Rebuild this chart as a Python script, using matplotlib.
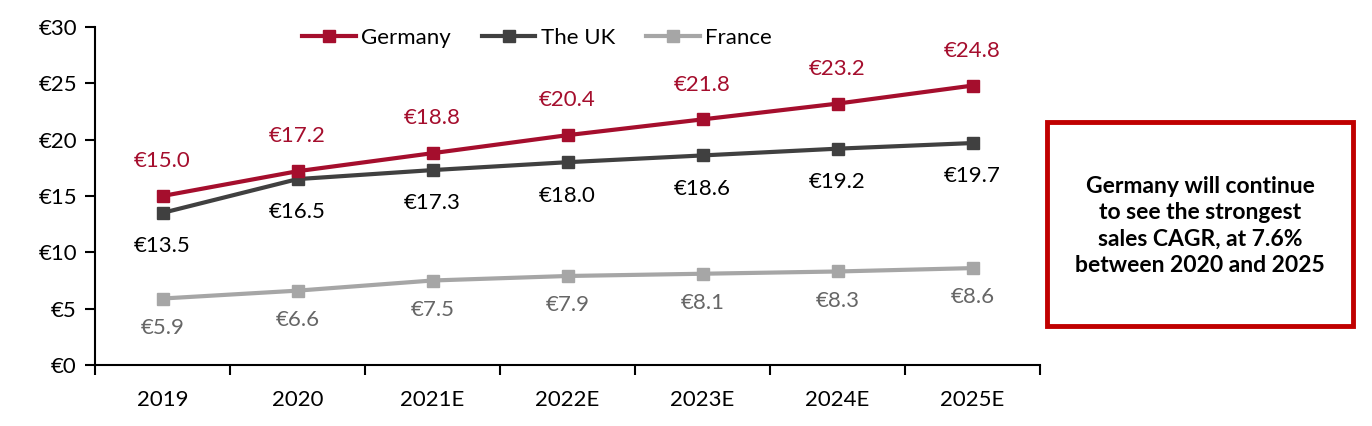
import matplotlib
matplotlib.use("Agg")
import matplotlib.pyplot as plt
from matplotlib.patches import Rectangle
import numpy as np

years = ["2019", "2020", "2021E", "2022E", "2023E", "2024E", "2025E"]
germany = [15.0, 17.2, 18.8, 20.4, 21.8, 23.2, 24.8]
uk = [13.5, 16.5, 17.3, 18.0, 18.6, 19.2, 19.7]
france = [5.9, 6.6, 7.5, 7.9, 8.1, 8.3, 8.6]
yticks = [0, 5, 10, 15, 20, 25, 30]
note = "Germany will continue\nto see the strongest\nsales CAGR, at 7.6%\nbetween 2020 and 2025"

plt.rcParams['font.family'] = ['Lato', 'DejaVu Sans']

c_de = "#A50E2D"
c_uk = "#404040"
c_fr = "#A6A6A6"

fig = plt.figure(figsize=(13.72, 4.26), dpi=100)
ax = fig.add_axes([95/1372, 61/426, 945/1372, 338/426])

x = np.arange(len(years))
ax.plot(x, germany, color=c_de, lw=3, marker='s', ms=9, label="Germany", zorder=4)
ax.plot(x, uk, color=c_uk, lw=3, marker='s', ms=9, label="The UK", zorder=3)
ax.plot(x, france, color=c_fr, lw=3, marker='s', ms=9, label="France", zorder=2)

fs_lab = 16
for xi, v in zip(x, germany):
    ax.annotate(f"€{v:.1f}", (xi, v), xytext=(0, 25), textcoords='offset points',
                ha='center', va='center', fontsize=fs_lab, color=c_de)
for xi, v in zip(x, uk):
    ax.annotate(f"€{v:.1f}", (xi, v), xytext=(0, -24), textcoords='offset points',
                ha='center', va='center', fontsize=fs_lab, color='black')
for xi, v in zip(x, france):
    ax.annotate(f"€{v:.1f}", (xi, v), xytext=(0, -21), textcoords='offset points',
                ha='center', va='center', fontsize=fs_lab, color='#666666')

ax.set_xlim(-0.5, len(years) - 0.5)
ax.set_ylim(0, 30)
ax.set_yticks(yticks)
ax.set_yticklabels([f"€{t}" for t in yticks], fontsize=16)
ax.set_xticks(x)
ax.set_xticklabels(years, fontsize=16)
ax.set_xticks(np.arange(-0.5, len(years)), minor=True)
ax.tick_params(axis='x', which='major', length=0, pad=18)
ax.tick_params(axis='x', which='minor', length=7, width=1.5, direction='out')
ax.tick_params(axis='y', length=7, width=1.5, direction='out', pad=6)
for s in ['top', 'right']:
    ax.spines[s].set_visible(False)
for s in ['left', 'bottom']:
    ax.spines[s].set_linewidth(1.5)

leg = fig.legend(loc='center', bbox_to_anchor=(537/1372, 1 - 38/426), ncol=3,
                 frameon=False, fontsize=16, handlelength=2.4, columnspacing=1.4,
                 handletextpad=0.25)

rect = Rectangle((1047/1372, 1 - 326/426), (1353 - 1047)/1372, (326 - 122)/426,
                 transform=fig.transFigure, fill=False, edgecolor='#C00000', lw=3.5)
fig.patches.append(rect)
fig.text(1200/1372, 1 - 226/426, note, ha='center', va='center', fontsize=16.5,
         fontweight='bold', linespacing=1.3)

fig.savefig("out.png", dpi=100)
